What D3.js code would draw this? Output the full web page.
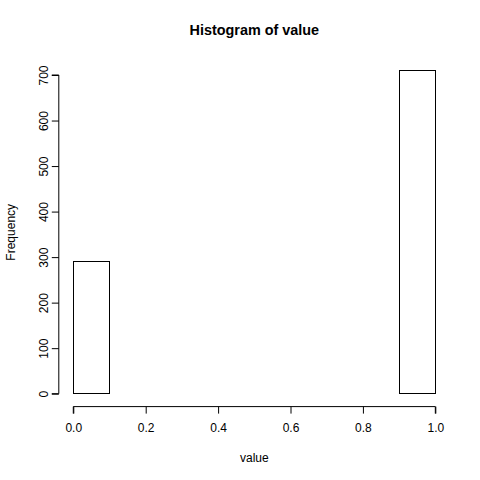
<!DOCTYPE html>
<html><head><meta charset="utf-8">
<script src="https://d3js.org/d3.v7.min.js"></script>
<style>body{margin:0;background:#fff}svg{display:block}text{font-family:"Liberation Sans",Arial,sans-serif}</style>
</head><body>
<svg id="c" width="480" height="480"></svg>
<script>
const binStarts = [0.0,0.1,0.2,0.3,0.4,0.5,0.6,0.7,0.8,0.9];
const binWidth = 0.1;
const counts = [291,0,0,0,0,0,0,0,0,709];
const xTicks = [0,0.2,0.4,0.6,0.8,1.0];
const yTicks = [0,100,200,300,400,500,600,700];
const title = "Histogram of value";
const xLabel = "value";
const yLabel = "Frequency";

const svg = d3.select("#c");
const x = d3.scaleLinear().domain([-0.04,1.04]).range([58.8,449.8]);
const ymax = d3.max(counts);
const y = d3.scaleLinear().domain([-0.04*ymax, 1.04*ymax]).range([406.6,58.0]);

svg.append("g").selectAll("rect").data(binStarts).join("rect")
  .attr("x", d=>x(d)).attr("width", d=>x(d+binWidth)-x(d))
  .attr("y", (d,i)=>y(counts[i])).attr("height",(d,i)=>y(0)-y(counts[i]))
  .attr("fill","#fff").attr("stroke","#000").attr("stroke-width",1)
  .attr("shape-rendering","crispEdges");

const xAxis = d3.axisBottom(x).tickValues(xTicks).tickFormat(d3.format(".1f")).tickSize(7).tickPadding(10);
const gx = svg.append("g").attr("transform",`translate(0,${y(-0.04*ymax)})`).call(xAxis);
gx.select(".domain").attr("d",`M${x(0)},7V0H${x(1)}V7`).attr("stroke","#000");
gx.selectAll("text").attr("font-size",12).attr("fill","#000");

const yAxis = d3.axisLeft(y).tickValues(yTicks).tickSize(7).tickFormat(d3.format("d"));
const gy = svg.append("g").attr("transform",`translate(${x(-0.04)},0)`).call(yAxis);
gy.select(".domain").attr("d",`M-7,${y(0)}H0V${y(700)}H-7`).attr("stroke","#000");
gy.selectAll("text").attr("font-size",12).attr("fill","#000")
  .attr("text-anchor","middle").attr("dy",null)
  .attr("transform",function(){const t=d3.select(this.parentNode).attr("transform");return "";})
  .attr("x",0).attr("y",0)
  .each(function(){d3.select(this).attr("transform","translate(-10.8,0) rotate(-90)");});
gx.selectAll(".tick line, .tick text"); 

svg.append("text").attr("x",(58.8+449.8)/2).attr("y",35).attr("text-anchor","middle")
  .attr("font-size",14.4).attr("font-weight","bold").text(title);
svg.append("text").attr("x",(58.8+449.8)/2).attr("y",461.5).attr("text-anchor","middle")
  .attr("font-size",12).text(xLabel);
svg.append("text").attr("transform",`translate(15,${(406.6+58)/2}) rotate(-90)`).attr("text-anchor","middle")
  .attr("font-size",12).text(yLabel);
</script></body></html>
